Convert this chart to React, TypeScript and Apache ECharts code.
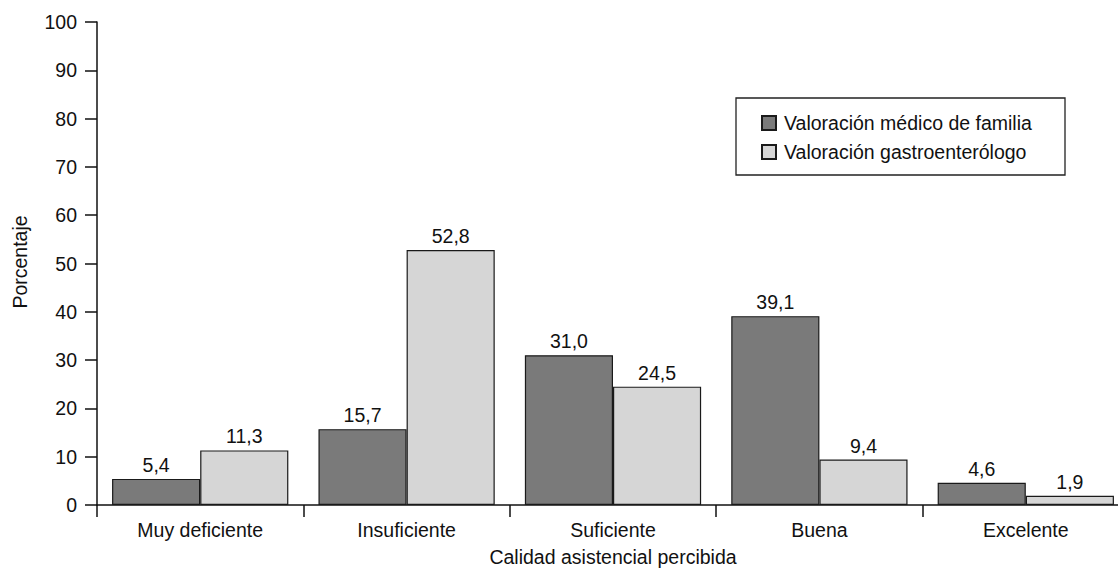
import React, { useEffect, useRef } from "react";
import * as echarts from "echarts";

const categories = ["Muy deficiente", "Insuficiente", "Suficiente", "Buena", "Excelente"];
const medicoFamilia = [5.4, 15.7, 31.0, 39.1, 4.6];
const gastroenterologo = [11.3, 52.8, 24.5, 9.4, 1.9];
const seriesNames = ["Valoración médico de familia", "Valoración gastroenterólogo"];
const yTicks = { min: 0, max: 100, interval: 10 };
const xAxisTitle = "Calidad asistencial percibida";
const yAxisTitle = "Porcentaje";

const FONT = "'Liberation Sans', Arial, sans-serif";
const FS = 19.5;

export default function App() {
  const ref = useRef<HTMLDivElement>(null);
  useEffect(() => {
    if (!ref.current) return;
    const chart = echarts.init(ref.current, undefined, { renderer: "svg" });
    const fmt = (p: any) => Number(p.value).toFixed(1).replace(".", ",");
    const label = {
      show: true,
      position: "top" as const,
      distance: 4,
      formatter: fmt,
      color: "#111",
      fontSize: FS,
      fontFamily: FONT,
    };
    chart.setOption({
      animation: false,
      backgroundColor: "#fff",
      textStyle: { fontFamily: FONT },
      grid: { left: 97, width: 1032, top: 22, bottom: 65, containLabel: false, outerBoundsMode: "none" },
      legend: {
        orient: "vertical",
        left: 761,
        top: 113,
        itemWidth: 14,
        itemHeight: 14,
        itemGap: 9,
        padding: 0,
        icon: "rect",
        textStyle: { fontSize: FS, color: "#111", fontFamily: FONT, padding: [0, 0, 0, 3] },
        data: seriesNames,
      },
      xAxis: {
        type: "category",
        data: categories,
        boundaryGap: true,
        axisLine: { lineStyle: { color: "#111", width: 1.5 } },
        axisTick: { show: true, length: 12, inside: false, alignWithLabel: false, lineStyle: { color: "#111", width: 1.5 } },
        axisLabel: { fontSize: FS, color: "#111", fontFamily: FONT, margin: 15 },
        splitLine: { show: false },
      },
      yAxis: {
        type: "value",
        min: yTicks.min,
        max: yTicks.max,
        interval: yTicks.interval,
        axisLine: { show: true, lineStyle: { color: "#111", width: 1.5 } },
        axisTick: { show: true, length: 12, inside: false, lineStyle: { color: "#111", width: 1.5 } },
        axisLabel: { fontSize: FS, color: "#111", fontFamily: FONT, margin: 20 },
        splitLine: { show: false },
      },
      graphic: [
        {
          type: "rect",
          shape: { x: 736, y: 98, width: 329, height: 77 },
          style: { fill: "none", stroke: "#222", lineWidth: 1.3 },
          z: 0,
        },
        {
          type: "text",
          x: 613,
          y: 567,
          style: { text: xAxisTitle, fontSize: FS, fill: "#111", fontFamily: FONT, align: "center", verticalAlign: "bottom" },
        },
        {
          type: "text",
          x: 20,
          y: 262,
          rotation: Math.PI / 2,
          style: { text: yAxisTitle, fontSize: FS, fill: "#111", fontFamily: FONT, align: "center", verticalAlign: "middle" },
        },
      ],
      series: [
        {
          name: seriesNames[0],
          type: "bar",
          data: medicoFamilia,
          barCategoryGap: "14.6%",
          barGap: "0%",
          itemStyle: { color: "#7a7a7a", borderColor: "#1a1a1a", borderWidth: 1.2 },
          label,
        },
        {
          name: seriesNames[1],
          type: "bar",
          data: gastroenterologo,
          barCategoryGap: "14.6%",
          barGap: "0%",
          itemStyle: { color: "#d6d6d6", borderColor: "#1a1a1a", borderWidth: 1.2 },
          label,
        },
      ],
    });
    return () => chart.dispose();
  }, []);
  return (
    <div
      ref={ref}
      style={{ position: "fixed", left: 0, top: 0, width: 1118, height: 570, overflow: "hidden", background: "#fff" }}
    />
  );
}
